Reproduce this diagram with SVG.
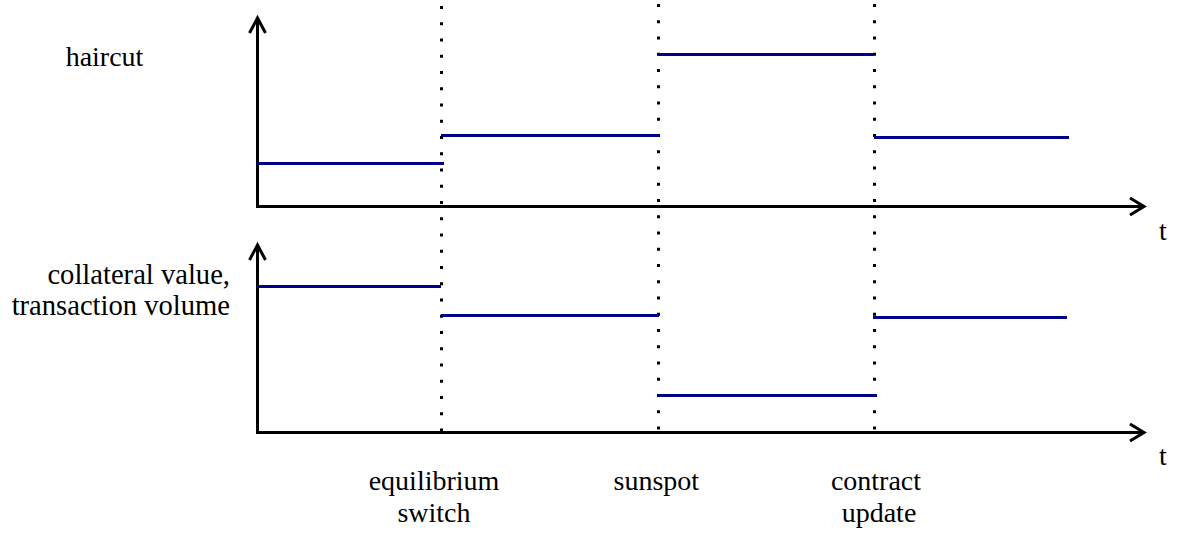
<svg xmlns="http://www.w3.org/2000/svg" width="1177" height="533" viewBox="0 0 1177 533">
  <style>
    .axis { fill: none; stroke: #000; stroke-width: 3; stroke-linejoin: miter; }
    .step { fill: none; stroke: #00008B; stroke-width: 3; }
    .dot { fill: none; stroke: #000; stroke-width: 3; stroke-dasharray: 3 13.25; }
  </style>
  <rect width="1177" height="533" fill="#fff"/>
  <g id="connectors">
    <g id="top-axes">
      <polyline class="axis" points="257.5,18 257.5,206.5 1144,206.5"/>
      <polyline class="axis" points="249.5,33 257.5,18 265.5,33"/>
      <polyline class="axis" points="1130,198 1144,206.5 1130,215"/>
    </g>
    <g id="bottom-axes">
      <polyline class="axis" points="257.5,245 257.5,432.5 1144,432.5"/>
      <polyline class="axis" points="249.5,260 257.5,245 265.5,260"/>
      <polyline class="axis" points="1130,424 1144,432.5 1130,441"/>
    </g>
    <g id="event-lines">
      <line class="dot" x1="441.5" y1="6" x2="441.5" y2="433"/>
      <line class="dot" x1="658.5" y1="4" x2="658.5" y2="433"/>
      <line class="dot" x1="874.5" y1="4" x2="874.5" y2="433"/>
    </g>
  </g>
  <g id="haircut-steps">
    <line class="step" x1="257" y1="163.5" x2="444" y2="163.5"/>
    <line class="step" x1="441" y1="135.5" x2="659" y2="135.5"/>
    <line class="step" x1="658" y1="54.5" x2="874" y2="54.5"/>
    <line class="step" x1="874" y1="137.5" x2="1069" y2="137.5"/>
  </g>
  <g id="collateral-steps">
    <line class="step" x1="257" y1="286.5" x2="441" y2="286.5"/>
    <line class="step" x1="441" y1="315.5" x2="659" y2="315.5"/>
    <line class="step" x1="658" y1="395.5" x2="877" y2="395.5"/>
    <line class="step" x1="873" y1="317.5" x2="1067" y2="317.5"/>
  </g>
  <g id="labels" font-family="Liberation Serif" font-size="28" fill="#000">
    <text x="104.5" y="66" text-anchor="middle">haircut</text>
    <text x="230" y="284" text-anchor="end" font-size="28.6">collateral value,</text>
    <text x="230" y="315" text-anchor="end" font-size="28.6">transaction volume</text>
    <text x="1163" y="240" text-anchor="middle">t</text>
    <text x="1163" y="465" text-anchor="middle">t</text>
    <text x="434" y="490" text-anchor="middle">equilibrium</text>
    <text x="434" y="521.7" text-anchor="middle">switch</text>
    <text x="656.3" y="490" text-anchor="middle">sunspot</text>
    <text x="876" y="490" text-anchor="middle">contract</text>
    <text x="879" y="521.7" text-anchor="middle">update</text>
  </g>
</svg>
